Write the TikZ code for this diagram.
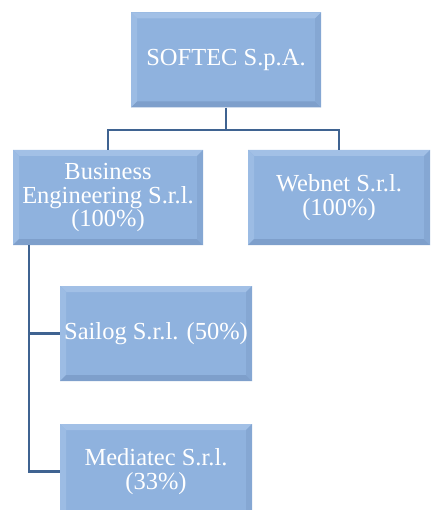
\documentclass[tikz,border=0pt]{standalone}
\usepackage{fontspec}
\setmainfont{Liberation Serif}
\definecolor{boxfill}{HTML}{8FB2DE}
\definecolor{boxlight}{HTML}{A2C0E6}
\definecolor{boxdark}{HTML}{7E9FCB}
\definecolor{linec}{HTML}{3F6391}
\begin{document}
\begin{tikzpicture}[x=1pt,y=-1pt,
  orgbox/.style={draw=none, fill=boxfill, minimum width=190pt, minimum height=95pt,
    text=white, align=center, font=\fontsize{24.5}{23.5}\selectfont, inner sep=0pt,
    path picture={
      \fill[boxlight] (path picture bounding box.north west) -- (path picture bounding box.north east)
        -- ([xshift=-6pt,yshift=-6pt]path picture bounding box.north east) -- ([xshift=6pt,yshift=-6pt]path picture bounding box.north west) -- cycle;
      \fill[boxlight!70!boxfill] (path picture bounding box.north west) -- (path picture bounding box.south west)
        -- ([xshift=6pt,yshift=6pt]path picture bounding box.south west) -- ([xshift=6pt,yshift=-6pt]path picture bounding box.north west) -- cycle;
      \fill[boxdark] (path picture bounding box.south west) -- (path picture bounding box.south east)
        -- ([xshift=-6pt,yshift=6pt]path picture bounding box.south east) -- ([xshift=6pt,yshift=6pt]path picture bounding box.south west) -- cycle;
      \fill[boxdark!60!boxfill] (path picture bounding box.north east) -- (path picture bounding box.south east)
        -- ([xshift=-6pt,yshift=6pt]path picture bounding box.south east) -- ([xshift=-6pt,yshift=-6pt]path picture bounding box.north east) -- cycle;
    }},
  conn/.style={draw=linec, line width=2.6pt}]
\useasboundingbox (0,0) rectangle (432,510);
\node[orgbox] (softec) at (226,60) {SOFTEC S.p.A.};
\node[orgbox] (business) at (108,197.5) {Business\\Engineering S.r.l.\\(100\%)};
\node[orgbox, minimum width=182pt] (webnet) at (339,197.5) {Webnet S.r.l.\\(100\%)};
\node[orgbox, minimum width=192pt] (sailog) at (156,333.5) {Sailog S.r.l. (50\%)};
\node[orgbox, minimum width=192pt] (mediatec) at (156,471.5) {Mediatec S.r.l.\\(33\%)};
\coordinate (bus) at (226,130);
\coordinate (spine) at (29,245);
\draw[conn] (softec.south) -- (bus);
\draw[conn] (business.north) |- (bus) -| (webnet.north);
\draw[conn] (spine) |- (sailog.west);
\draw[conn] (spine) |- (mediatec.west);
\end{tikzpicture}
\end{document}
